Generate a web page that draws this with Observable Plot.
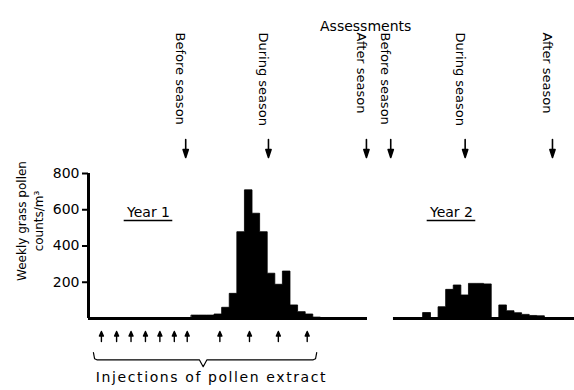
<!DOCTYPE html>
<html>
<head>
<meta charset="utf-8">
<script src="https://cdn.jsdelivr.net/npm/d3@7"></script>
<script src="https://cdn.jsdelivr.net/npm/@observablehq/plot@0.6"></script>
<style>
  html, body { margin: 0; padding: 0; background: #fff; }
  #chart svg { display: block; }
</style>
</head>
<body>
<div id="chart"></div>
<script>
// ---- data (weeks on a common time axis; counts per m3) ----
const year1Weeks  = [14, 15, 16, 17, 18, 19, 20, 21, 22, 23, 24, 25, 26, 27, 28, 29, 30];
const year1Counts = [16, 16, 16, 22, 59, 136, 476, 707, 578, 476, 247, 186, 259, 72, 35, 22, 5];

const year2Weeks  = [44.5, 45.5, 46.5, 47.5, 48.5, 49.5, 50.5, 51.5, 52.5, 53.5, 54.5, 55.5, 56.5, 57.5, 58.5, 59.5];
const year2Counts = [30, 0, 62, 158, 182, 127, 191, 191, 188, 0, 72, 40, 29, 20, 14, 12];

const assessmentWeeks  = [13.2, 24.1, 37.0, 40.2, 50.0, 61.5];
const assessmentLabels = ["Before season", "During season", "After season",
                          "Before season", "During season", "After season"];

const injectionWeeks = [2.1, 4.1, 6.0, 7.9, 9.8, 11.7, 13.4, 17.7, 21.6, 25.4, 29.2];

const yTicks = [200, 400, 600, 800];
const yearLabels = ["Year 1", "Year 2"];
const yearLabelWeeks = [8.3, 48.2];
const yearAxisStart = [0.4, 40.56];
const yearAxisEnd   = [37.14, 64.4];

// ---- tables built from the arrays ----
function steps(year, weeks, counts) {
  const pts = weeks.map((w, i) => ({year, week: w, count: counts[i]}));
  pts.push({year, week: weeks[weeks.length - 1] + 1, count: counts[counts.length - 1]});
  return pts;
}
const bars = [
  ...steps("Year 1", year1Weeks, year1Counts),
  ...steps("Year 2", year2Weeks, year2Counts)
];
const assessments = assessmentWeeks.map((w, i) => ({week: w, label: assessmentLabels[i]}));
const injections = injectionWeeks.map(w => ({week: w}));
const years = yearLabels.map((t, i) => ({label: t, week: yearLabelWeeks[i]}));
const spans = yearAxisStart.map((s, i) => ({x1: s, x2: yearAxisEnd[i]}));
const first = injectionWeeks[0], last = injectionWeeks[injectionWeeks.length - 1];
const brace = [
  {week: first - 1.05, y: -188},
  {week: first - 0.9, y: -222},
  {week: first - 0.6, y: -228},
  {week: 15.0, y: -228},
  {week: 15.5, y: -266},
  {week: 16.0, y: -228},
  {week: last + 0.8, y: -228},
  {week: last + 1.1, y: -222},
  {week: last + 1.25, y: -188}
];

// filled arrow shape for vectors
function filledArrow(headLen) {
  return {
    draw(context, l, r) {
      context.moveTo(0, 0);
      context.lineTo(0, -l + headLen);
      context.moveTo(-r, -l + headLen);
      context.lineTo(0, -l);
      context.lineTo(r, -l + headLen);
      context.closePath();
    }
  };
}

const font = "DejaVu Sans, Verdana, sans-serif";

const chart = Plot.plot({
  width: 574,
  height: 390,
  marginLeft: 88,
  marginRight: 0,
  marginTop: 173,
  marginBottom: 72,
  style: {fontFamily: font, background: "#fff", color: "#000", overflow: "visible"},
  x: {domain: [0.4, 64.4], axis: null},
  y: {domain: [0, 800], axis: null},
  marks: [
    // weekly bars (drawn as a stepped silhouette so adjacent weeks join seamlessly)
    Plot.areaY(bars, {x: "week", y: "count", z: "year", curve: "step-after",
      fill: "#000", stroke: "#000", strokeWidth: 0.8}),
    // baselines
    Plot.ruleY(spans, {x1: "x1", x2: "x2", y: () => 0, stroke: "#000", strokeWidth: 3}),
    // y axis
    Plot.ruleX([0.4], {y1: 0, y2: 800, stroke: "#000", strokeWidth: 3}),
    Plot.axisY(yTicks, {tickSize: 6, tickPadding: 3, fontSize: 14, strokeWidth: 2, label: null, fill: "#000"}),
    Plot.text(["Weekly grass pollen\ncounts/m³"], {
      frameAnchor: "left", dx: -59, dy: -25, rotate: -90, fontSize: 12, lineHeight: 1.42,
      textAnchor: "middle", fill: "#000"
    }),
    // year labels
    Plot.text(years, {x: "week", y: () => 582, text: "label", fontSize: 14, fill: "#000"}),
    Plot.ruleY(years, {x1: d => d.week - 3.2, x2: d => d.week + 3.2, y: () => 541, stroke: "#000", strokeWidth: 1.5}),
    // assessments
    Plot.text(["Assessments"], {x: () => 36.9, frameAnchor: "top", dy: -152.5, fontSize: 14, fill: "#000"}),
    Plot.text(assessments, {x: "week", text: "label", frameAnchor: "top", dy: -141, rotate: 90,
      textAnchor: "start", fontSize: 13, fill: "#000"}),
    Plot.vector(assessments, {x: "week", frameAnchor: "top", dy: -34, length: 18, rotate: 180, anchor: "start",
      r: 2.6, shape: filledArrow(8), fill: "#000", stroke: "#000", strokeWidth: 1.6}),
    // injections
    Plot.vector(injections, {x: "week", frameAnchor: "bottom", dy: 23, length: 10, rotate: 0, anchor: "start",
      r: 2, shape: filledArrow(4.5), fill: "#000", stroke: "#000", strokeWidth: 1.4}),
    Plot.line(brace, {x: "week", y: "y", stroke: "#000", strokeWidth: 1.2, curve: "linear"}),
    Plot.text(["Injections of pollen extract"], {x: () => 16.6, frameAnchor: "bottom", dy: 63,
      fontSize: 14, fill: "#000"})
  ]
});

d3.select(chart).selectAll("text")
  .filter(function() { return this.textContent === "Injections of pollen extract"; })
  .style("letter-spacing", "1.6px");
document.getElementById("chart").appendChild(chart);
</script>
</body>
</html>
